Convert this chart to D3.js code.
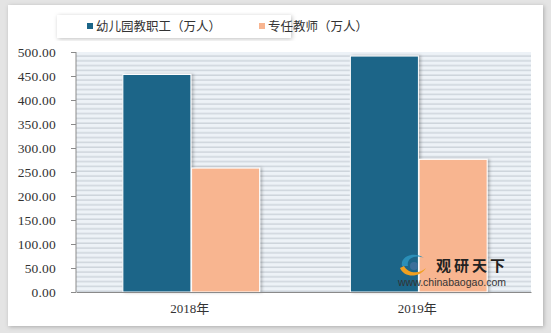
<!DOCTYPE html>
<html>
<head>
<meta charset="utf-8">
<script src="https://cdn.jsdelivr.net/npm/d3@7"></script>
<style>
  html, body { margin: 0; padding: 0; background: #e4e4e4; }
  svg { display: block; }
</style>
</head>
<body>
<svg id="chart"></svg>
<script>
// Kindergarten staff vs full-time teachers, 2018-2019 (万人)
const categories = ['2018年', '2019年'];
const seriesNames = ['幼儿园教职工（万人）', '专任教师（万人）'];
const staffValues = [453.15, 491.57];
const teacherValues = [258.14, 276.31];
const yTicks = [0, 50, 100, 150, 200, 250, 300, 350, 400, 450, 500];

const W = 551, H = 333;
const COLORS = ['#1b6588', '#f8b590'];
const MARGIN = { top: 52, right: 20, bottom: 41, left: 76 };
const WIDTH = W - MARGIN.left - MARGIN.right;
const HEIGHT = H - MARGIN.top - MARGIN.bottom;

const svg = d3.select('#chart').attr('width', W).attr('height', H);
const defs = svg.append('defs');

// soft shadow for card, legend and bars
const sh = defs.append('filter').attr('id', 'shadow')
    .attr('x', '-10%').attr('y', '-10%').attr('width', '120%').attr('height', '120%');
sh.append('feDropShadow').attr('dx', 1).attr('dy', 1).attr('stdDeviation', 2)
    .attr('flood-color', '#000').attr('flood-opacity', 0.25);

const barSh = defs.append('filter').attr('id', 'barShadow')
    .attr('x', '-10%').attr('y', '-5%').attr('width', '130%').attr('height', '110%');
barSh.append('feDropShadow').attr('dx', 2).attr('dy', 0).attr('stdDeviation', 1.5)
    .attr('flood-color', '#000').attr('flood-opacity', 0.25);

// striped plot background
const pat = defs.append('pattern').attr('id', 'stripes')
    .attr('patternUnits', 'userSpaceOnUse').attr('width', 8).attr('height', 4.8);
pat.append('rect').attr('width', 8).attr('height', 4.8).attr('fill', '#edf2f7');
pat.append('rect').attr('y', 3.4).attr('width', 8).attr('height', 1.2).attr('fill', '#c6ced6');

// card
svg.append('rect')
    .attr('x', 8).attr('y', 5).attr('width', 535).attr('height', 321)
    .attr('fill', '#fff').attr('filter', 'url(#shadow)');

// --- Scales ---
const x = d3.scaleBand().domain(categories).range([0, WIDTH]).padding(0);
const xSub = d3.scaleBand().domain([0, 1]).range([0, x.bandwidth()]).paddingInner(0.01).paddingOuter(0.66);
const y = d3.scaleLinear().domain([0, 500]).range([HEIGHT, 0]);

const g = svg.append('g').attr('transform', `translate(${MARGIN.left},${MARGIN.top})`);

g.append('rect')
    .attr('width', WIDTH).attr('height', HEIGHT)
    .attr('fill', 'url(#stripes)');

// Bars
const data = categories.map((c, i) => ({ cat: c, vals: [staffValues[i], teacherValues[i]] }));
const groups = g.selectAll('g.cat')
    .data(data)
    .join('g')
    .attr('class', 'cat')
    .attr('transform', d => `translate(${x(d.cat) + 1.5},0)`);

groups.selectAll('rect')
    .data(d => d.vals.map((v, k) => ({ v, k })))
    .join('rect')
    .attr('x', d => xSub(d.k))
    .attr('y', d => y(d.v))
    .attr('width', xSub.bandwidth())
    .attr('height', d => HEIGHT - y(d.v))
    .attr('fill', d => COLORS[d.k])
    .attr('stroke', '#fff')
    .attr('stroke-width', 1)
    .attr('filter', 'url(#barShadow)');

// Y axis
const yAxis = g.append('g')
    .call(d3.axisLeft(y).tickValues(yTicks).tickSize(5).tickPadding(15)
        .tickFormat(d => d3.format('.2f')(d)));
yAxis.select('.domain').attr('stroke', '#8a8a8a').attr('d', `M0,0V${HEIGHT}`);
yAxis.selectAll('.tick line').attr('stroke', '#8a8a8a');
yAxis.selectAll('.tick text')
    .style('font-family', '"Liberation Serif", "DejaVu Serif", serif')
    .style('font-size', '13.5px')
    .style('letter-spacing', '0.2px')
    .attr('fill', '#333');

// X axis
const xAxis = g.append('g')
    .attr('transform', `translate(0,${HEIGHT})`)
    .call(d3.axisBottom(x).tickSize(0).tickPadding(12));
xAxis.select('.domain').attr('stroke', '#8a8a8a');
xAxis.selectAll('.tick text')
    .style('font-family', '"Liberation Serif", "Noto Sans CJK SC", serif')
    .style('font-size', '13px')
    .attr('fill', '#333');

// Legend
const legend = svg.append('g');
legend.append('rect')
    .attr('x', 57).attr('y', 15).attr('width', 234).attr('height', 23)
    .attr('fill', '#fff').attr('filter', 'url(#shadow)');
const legendX = [87, 259];
seriesNames.forEach((name, i) => {
    legend.append('rect')
        .attr('x', legendX[i]).attr('y', 23).attr('width', 6).attr('height', 6)
        .attr('fill', COLORS[i]);
    legend.append('text')
        .attr('x', legendX[i] + 9).attr('y', 31)
        .style('font-family', '"Noto Sans CJK SC", sans-serif')
        .style('font-size', '12.5px')
        .attr('fill', '#333')
        .text(name);
});

// Watermark
const wm = svg.append('g').attr('transform', 'translate(398,252)');
wm.append('path')
    .attr('d', 'M4,14 C2,4 16,-1 26,6 C18,2 8,6 10,14 Z')
    .attr('fill', '#2a8fb8');
wm.append('path')
    .attr('d', 'M2,16 C6,26 22,26 28,16 C22,22 10,22 6,14 Z')
    .attr('fill', '#f0a020');
wm.append('circle').attr('cx', 16).attr('cy', 14).attr('r', 4).attr('fill', '#3b6f9a');
wm.append('text')
    .attr('x', 38).attr('y', 18.5)
    .style('font-family', '"Noto Sans CJK SC", sans-serif')
    .style('font-size', '15px').style('font-weight', 'bold')
    .style('letter-spacing', '3px')
    .attr('fill', '#222')
    .text('观研天下');
wm.append('text')
    .attr('x', 0).attr('y', 34)
    .style('font-family', '"Liberation Sans", Arial, sans-serif')
    .style('font-size', '10.5px')
    .attr('fill', '#333')
    .text('www.chinabaogao.com');
</script>
</body>
</html>
